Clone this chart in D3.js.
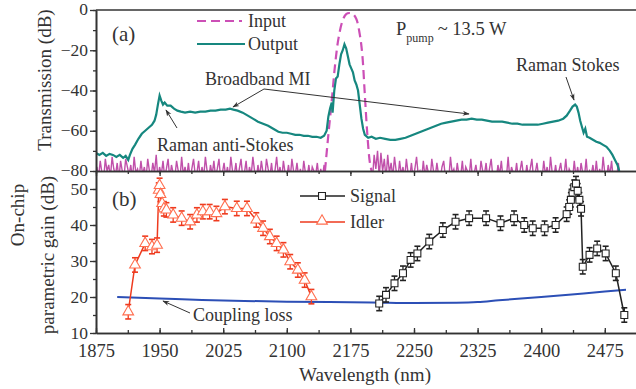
<!DOCTYPE html>
<html lang="en">
<head>
<meta charset="UTF-8">
<title>Parametric gain</title>
<script src="https://d3js.org/d3.v7.min.js"></script>
<style>
  body { margin: 0; background: #fff; overflow: hidden; }
  .axis path, .axis line { stroke: #333; }
  .axis path { stroke-width: 1.6; }
</style>
</head>
<body>
<div id="chart"></div>
<script>
// ---- data ----
const xTicks = [1875, 1950, 2025, 2100, 2175, 2250, 2325, 2400, 2475];
const topTicks = [-80, -60, -40, -20, 0];
const botTicks = [10, 20, 30, 40, 50];

// input pump (dashed)
const inputPeak = [[2145,-80],[2149,-62],[2153,-45],[2157,-27],[2161,-14],[2166,-5],[2170,-2],[2174,-1.5],[2178,-2],[2182,-4.5],[2186,-12],[2189,-22],[2192,-42],[2195,-62],[2198,-76],[2200,-80]];

// input noise floor: left side starts at 1876, right side at 2201, step 2 nm
const noiseLeft = [-78,-83,-75,-81,-84,-74,-80,-77,-83,-73,-79,-82,-76,-84,-75,-80,-83,-74,-78,-82,
  -77,-84,-73,-81,-79,-83,-75,-82,-78,-84,-74,-80,-83,-76,-81,-72,-84,-78,-82,-75,
  -83,-79,-74,-84,-77,-81,-83,-75,-80,-84,-73,-82,-78,-83,-76,-84,-79,-74,-82,-81,
  -75,-84,-78,-83,-73,-80,-84,-77,-82,-75,-83,-79,-74,-84,-81,-76,-83,-78,-84,-73,
  -80,-82,-76,-84,-79,-74,-83,-81,-75,-84,-78,-82,-73,-80,-84,-77,-83,-75,-81,-84,
  -74,-79,-83,-76,-84,-80,-73,-82,-78,-84,-75,-81,-83,-77,-84,-74,-80,-82,-76,-83,
  -79,-84,-75,-81,-83,-77,-84,-78,-80,-82,-76,-84,-79,-83,-77,-84];
const noiseRight = [-84,-72,-79,-70,-83,-71,-80,-74,-84,-72,-81,-76,-83,-73,-80,-84,-75,-82,-78,-84,
  -74,-81,-83,-76,-84,-79,-73,-82,-80,-84,-75,-83,-77,-81,-84,-74,-80,-83,-76,-82,
  -84,-78,-75,-83,-80,-84,-73,-81,-79,-84,-76,-82,-83,-75,-84,-78,-80,-83,-74,-84,
  -81,-77,-83,-84,-75,-80,-82,-76,-84,-79,-74,-83,-81,-84,-77,-82,-75,-84,-80,-83,
  -73,-84,-78,-81,-83,-76,-84,-80,-75,-82,-84,-77,-83,-79,-74,-84,-81,-76,-83,-80,
  -84,-75,-82,-78,-84,-73,-81,-83,-77,-84,-80,-76,-83,-82,-74,-84,-79,-81,-84,-75,
  -83,-78,-84,-76,-81,-83,-74,-84,-80,-82,-77,-84,-75,-83,-79,-84,-73,-81,
  -84,-77,-82,-75,-84,-80,-83,-76,-84,-81];

// output spectrum
const output = [[1875,-71],[1879,-72],[1883,-71],[1887,-72.5],[1891,-71.5],[1895,-72],[1899,-73],[1903,-72],
  [1907,-73.5],[1910,-72.5],[1913,-74.5],[1915,-72],[1918,-69],[1921,-67],[1925,-64],[1929,-61.5],
  [1933,-60],[1937,-58.5],[1941,-57],[1944,-55],[1946,-52],[1948,-47],[1950,-42.5],[1952,-45],
  [1954,-47],[1956,-46],[1959,-47.5],[1963,-47.5],[1967,-49],[1971,-50],[1975,-50.5],[1980,-51],
  [1986,-50.5],[1992,-51],[1998,-50.5],[2004,-50.5],[2010,-50],[2016,-50],[2022,-49.5],[2028,-49.5],
  [2033,-49],[2037,-49.5],[2042,-50],[2048,-51],[2054,-52.5],[2060,-54],[2066,-55.5],[2072,-56.5],
  [2078,-57.5],[2084,-59],[2090,-60.5],[2095,-61],[2100,-61],[2105,-61.5],[2110,-62],[2115,-62],
  [2120,-62.5],[2125,-62.5],[2130,-63],[2135,-63],[2140,-63.5],[2144,-62.5],[2147,-60],[2149,-53],
  [2151,-49],[2153,-46],[2154,-51],[2156,-40],[2158,-34],[2160,-33],[2162,-27],[2164,-22],
  [2166,-20],[2168,-17],[2170,-19],[2172,-23],[2174,-27],[2176,-29],[2178,-31],[2180,-35],
  [2182,-37],[2184,-40],[2186,-47],[2188,-54],[2190,-59],[2192,-62],[2196,-63.5],[2200,-63],
  [2205,-64],[2210,-63.5],[2216,-64],[2222,-64.5],[2228,-64.5],[2234,-64],[2240,-63.5],[2246,-62.5],
  [2252,-61.5],[2258,-60.5],[2264,-59.5],[2270,-58.5],[2276,-57.5],[2282,-56.5],[2288,-56],[2294,-55.5],
  [2300,-55],[2306,-54.5],[2312,-54.5],[2318,-54],[2324,-54.5],[2330,-54.5],[2336,-55],[2342,-55.5],
  [2348,-55.5],[2354,-55.5],[2360,-56],[2366,-56.5],[2372,-56.5],[2378,-57],[2384,-57],[2390,-57],
  [2396,-57],[2402,-56.5],[2408,-56],[2414,-55.5],[2420,-55],[2426,-54],[2430,-52.5],[2434,-50],
  [2437,-48],[2440,-47],[2442,-48],[2444,-51],[2446,-55],[2448,-58],[2450,-61],[2452,-59],
  [2454,-63],[2457,-63.5],[2461,-64.5],[2465,-65.5],[2469,-66],[2473,-67],[2477,-68],[2481,-70],
  [2484,-72],[2487,-74.5],[2490,-77],[2492,-80]];

// gain: [wavelength, gain, error]
const signal = [[2209,18.2,2],[2217,20.6,2],[2227,23.8,2],[2237,26.6,2],[2246,30.3,2],[2254,32.1,2],
  [2268,35.4,2],[2284,38.6,2],[2299,40.9,2],[2315,41.9,2],[2335,41.9,2],[2352,40.5,2],[2368,41.9,2],
  [2380,40,2],[2390,39.1,2],[2404,39.1,2],[2417,40,2],[2430,43,2],[2433,45,2],[2435,47,2],
  [2437,49,2],[2439,50.5,2],[2441,51.5,2],[2443,49.5,2],[2445,47,2],[2447,44.5,2],[2449,28.4,2],
  [2457,31.7,2],[2466,33.5,2],[2476,32.1,2],[2488,26.6,2],[2498,15,2]];
const idler = [[1913,15.9,2],[1921,28.9,2],[1933,34.9,2],[1941,34,2],[1947,34.4,2],[1949,49.7,2],
  [1950,51,2],[1951,48.5,2],[1953,46,2],[1955,44.5,2],[1958,44.2,2],[1966,42.8,2],[1976,41.9,2],
  [1986,40.9,2],[1994,42.8,2],[2001,43.7,2],[2009,43.7,2],[2017,43.2,2],[2027,45.1,2],[2041,44.6,2],
  [2053,44.6,2],[2064,41.4,2],[2072,39.1,2],[2080,36.8,2],[2088,34.9,2],[2096,33.1,2],[2104,29.8,2],
  [2113,27.5,2],[2121,24.7,2],[2129,20.1,2]];
const coupling = [[1900,20.0],[1950,19.6],[2000,19.2],[2050,18.9],[2100,18.7],[2150,18.6],[2200,18.5],
  [2250,18.3],[2300,18.4],[2325,18.6],[2350,19.1],[2400,20.0],[2450,21.0],[2500,22.0]];

// ---- layout ----
const W = 636, H = 389;
const padL = 96, padR = 636.6, yTop = 10, yMid = 171, yBottom = 333;
const FONT = "'Liberation Serif', 'Times New Roman', serif";

const svg = d3.select("#chart").append("svg").attr("width", W).attr("height", H);

const x = d3.scaleLinear().domain([1875, 2512.5]).range([padL, padR]);
const yT = d3.scaleLinear().domain([-80, 0]).range([yMid, yTop]);
const yB = d3.scaleLinear().domain([10, 55]).range([yBottom, yMid]);

const defs = svg.append("defs");
defs.append("clipPath").attr("id", "clipT").append("rect")
  .attr("x", padL).attr("y", yTop).attr("width", padR - padL).attr("height", yMid - yTop);
defs.append("marker").attr("id", "arr").attr("viewBox", "0 0 10 10")
  .attr("refX", 9).attr("refY", 5).attr("markerWidth", 7).attr("markerHeight", 7)
  .attr("orient", "auto-start-reverse")
  .append("path").attr("d", "M0,1.5 L10,5 L0,8.5 L3,5 Z").attr("fill", "#333");

// ---- top panel ----
const gT = svg.append("g").attr("clip-path", "url(#clipT)");
const lineT = d3.line().x(d => x(d[0])).y(d => yT(d[1]));

const noiseL = noiseLeft.map((v, i) => [1876 + i * 2, v]);
const noiseR = noiseRight.map((v, i) => [2201 + i * 2, v]);
[noiseL, noiseR].forEach(nd => {
  gT.append("path").datum(nd).attr("d", lineT)
    .attr("fill", "none").attr("stroke", "#c050aa").attr("stroke-width", 1.4);
});
gT.append("path").datum(inputPeak).attr("d", lineT.curve(d3.curveCatmullRom))
  .attr("fill", "none").attr("stroke", "#cc4fb6").attr("stroke-width", 2.2)
  .attr("stroke-dasharray", "9,5");
lineT.curve(d3.curveLinear);
gT.append("path").datum(output).attr("d", lineT)
  .attr("fill", "none").attr("stroke", "#16877f").attr("stroke-width", 2.2);

// ---- bottom panel ----
const gB = svg.append("g");
const lineB = d3.line().x(d => x(d[0])).y(d => yB(d[1]));

gB.append("path").datum(coupling).attr("d", lineB.curve(d3.curveMonotoneX))
  .attr("fill", "none").attr("stroke", "#2c4fb6").attr("stroke-width", 2);
lineB.curve(d3.curveLinear);

function drawSeries(data, color, markerStroke, symbol, size) {
  const g = gB.append("g");
  data.forEach(d => {
    const cx = x(d[0]), y1 = yB(d[1] - d[2]), y2 = yB(d[1] + d[2]);
    g.append("line").attr("x1", cx).attr("x2", cx).attr("y1", y1).attr("y2", y2)
      .attr("stroke", color).attr("stroke-width", 1.3);
    [y1, y2].forEach(yy => g.append("line").attr("x1", cx - 3).attr("x2", cx + 3)
      .attr("y1", yy).attr("y2", yy).attr("stroke", color).attr("stroke-width", 1.6));
  });
  g.append("path").datum(data).attr("d", lineB).attr("fill", "none")
    .attr("stroke", color).attr("stroke-width", 1.5);
  g.selectAll(".m").data(data).enter().append("path")
    .attr("transform", d => `translate(${x(d[0])},${yB(d[1])})`)
    .attr("d", d3.symbol().type(symbol).size(size))
    .attr("fill", "#fff").attr("stroke", markerStroke).attr("stroke-width", 1.1);
}
drawSeries(idler, "#ee3a1e", "#ff6f50", d3.symbolTriangle, 50);
drawSeries(signal, "#222", "#222", d3.symbolSquare, 48);

// ---- axes ----
function styleAxis(g) {
  g.attr("class", "axis").attr("font-size", 17.5);
  g.selectAll(".tick line").attr("stroke-width", 1.3);
}
const minorX = d3.range(1875, 2513, 37.5);

// left axes
svg.append("g").attr("transform", `translate(${padL},0)`)
  .call(d3.axisLeft(yT).tickValues(d3.range(-80, 1, 10)).tickSize(3).tickFormat("").tickSizeOuter(0)).call(styleAxis);
const ylT = svg.append("g").attr("transform", `translate(${padL},0)`)
  .call(d3.axisLeft(yT).tickValues(topTicks).tickSize(6).tickPadding(2).tickSizeOuter(0)).call(styleAxis);
ylT.selectAll("text").attr("dy", "0.28em");
svg.append("g").attr("transform", `translate(${padL},0)`)
  .call(d3.axisLeft(yB).tickValues(d3.range(10, 55, 5)).tickSize(3).tickFormat("").tickSizeOuter(0)).call(styleAxis);
svg.append("g").attr("transform", `translate(${padL},0)`)
  .call(d3.axisLeft(yB).tickValues(botTicks).tickSize(6).tickPadding(2).tickSizeOuter(0)).call(styleAxis);

// shared middle axis (ticks pointing down into panel b)
svg.append("g").attr("transform", `translate(0,${yMid})`)
  .call(d3.axisTop(x).tickValues(minorX).tickSize(-3).tickFormat("").tickSizeOuter(0)).call(styleAxis);
svg.append("g").attr("transform", `translate(0,${yMid})`)
  .call(d3.axisTop(x).tickValues(xTicks).tickSize(-5).tickFormat("").tickSizeOuter(0)).call(styleAxis);

// bottom axis (ticks inward)
svg.append("g").attr("transform", `translate(0,${yBottom})`)
  .call(d3.axisBottom(x).tickValues(minorX).tickSize(-3).tickFormat("").tickSizeOuter(0)).call(styleAxis);
const xa = svg.append("g").attr("transform", `translate(0,${yBottom})`)
  .call(d3.axisBottom(x).tickValues(xTicks).tickFormat(d3.format("d")).tickSize(-5).tickPadding(8).tickSizeOuter(0)).call(styleAxis);
xa.selectAll("text").attr("dy", "0.85em").attr("font-size", 18.5);

// top frame
svg.append("line").attr("x1", padL).attr("x2", padR).attr("y1", yTop).attr("y2", yTop)
  .attr("stroke", "#333").attr("stroke-width", 1.6);

// ---- labels ----
function label(xp, yp, txt, size) {
  return svg.append("text").attr("x", xp).attr("y", yp).attr("font-size", size).text(txt);
}
svg.append("text").attr("transform", `translate(51,80) rotate(-90)`)
  .attr("text-anchor", "middle").attr("font-size", 19).text("Transmission (dB)");
svg.append("text").attr("transform", `translate(24,215) rotate(-90)`)
  .attr("text-anchor", "middle").attr("font-size", 19).text("On-chip");
svg.append("text").attr("transform", `translate(54,255) rotate(-90)`)
  .attr("text-anchor", "middle").attr("font-size", 19).text("parametric gain (dB)");
label(365, 381, "Wavelength (nm)", 19).attr("text-anchor", "middle");

label(112, 41, "(a)", 21);
label(112, 206, "(b)", 21);

// legend (a)
svg.append("line").attr("x1", 197).attr("x2", 242).attr("y1", 21).attr("y2", 21)
  .attr("stroke", "#cc4fb6").attr("stroke-width", 2.2).attr("stroke-dasharray", "9,5");
label(248, 27, "Input", 18);
svg.append("line").attr("x1", 197).attr("x2", 245).attr("y1", 44).attr("y2", 44)
  .attr("stroke", "#16877f").attr("stroke-width", 2.2);
label(248, 50, "Output", 18);

const pp = label(396, 35, "", 18.5);
pp.append("tspan").text("P");
pp.append("tspan").attr("font-size", 12).attr("dy", 7).text("pump");
pp.append("tspan").attr("dy", -7).attr("dx", 4).text("~ 13.5 W");

label(205, 85, "Broadband MI", 18);
label(157, 151, "Raman anti-Stokes", 18);
label(516, 71, "Raman Stokes", 18);
label(193, 321, "Coupling loss", 18);

function arrow(x1, y1, x2, y2) {
  svg.append("line").attr("x1", x1).attr("y1", y1).attr("x2", x2).attr("y2", y2)
    .attr("stroke", "#333").attr("stroke-width", 1).attr("marker-end", "url(#arr)");
}
arrow(264, 89, 233, 107);
arrow(264, 89, 469, 114);
arrow(177, 128, 166, 110);
arrow(566, 77, 574, 100);
arrow(190, 313, 163, 301);

// legend (b)
svg.append("line").attr("x1", 300).attr("x2", 345).attr("y1", 196).attr("y2", 196)
  .attr("stroke", "#222").attr("stroke-width", 1.5);
svg.append("path").attr("transform", "translate(322,196)")
  .attr("d", d3.symbol().type(d3.symbolSquare).size(48))
  .attr("fill", "#fff").attr("stroke", "#222").attr("stroke-width", 1.1);
label(350, 202, "Signal", 18);
svg.append("line").attr("x1", 300).attr("x2", 345).attr("y1", 222).attr("y2", 222)
  .attr("stroke", "#ee3a1e").attr("stroke-width", 1.5);
svg.append("path").attr("transform", "translate(322,221)")
  .attr("d", d3.symbol().type(d3.symbolTriangle).size(50))
  .attr("fill", "#fff").attr("stroke", "#ff6f50").attr("stroke-width", 1.1);
label(350, 228, "Idler", 18);

// serif font everywhere
svg.selectAll("text").style("font-family", FONT).style("fill", "#333");
</script>
</body>
</html>
